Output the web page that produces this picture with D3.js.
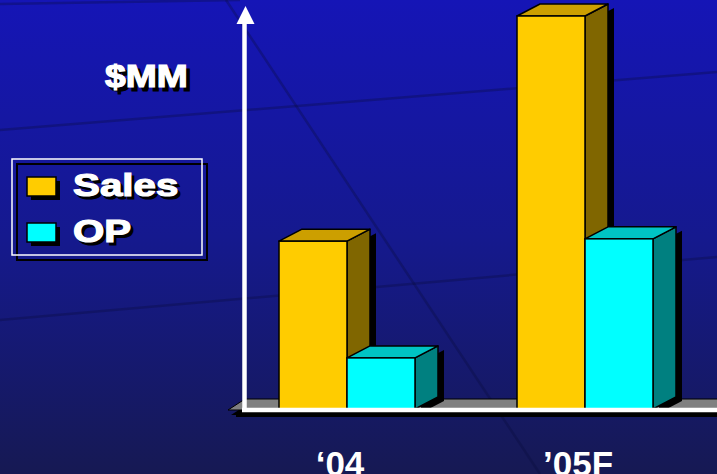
<!DOCTYPE html>
<html>
<head>
<meta charset="utf-8">
<script src="https://cdn.jsdelivr.net/npm/d3@7"></script>
<style>
  html, body { margin: 0; padding: 0; background: #151760; }
  svg { display: block; }
</style>
</head>
<body>
<svg id="chart" width="717" height="474"></svg>
<script>
// ---- data ----
const categories = ["\u201804", "\u201905F"];
const seriesNames = ["Sales", "OP"];
const salesValues = [42.7, 100];
const opValues = [13.0, 43.3];
const yDomain = [0, 100];
const unitLabel = "$MM";

// ---- layout ----
const W = 717, H = 474;
const svg = d3.select("#chart");
const font = "'Liberation Sans', Arial, Helvetica, sans-serif";

// background
const defs = svg.append("defs");
const bg = defs.append("linearGradient").attr("id", "bg").attr("x1", 0).attr("y1", 0).attr("x2", 0).attr("y2", 1);
bg.append("stop").attr("offset", 0).attr("stop-color", "#1515b6");
bg.append("stop").attr("offset", 0.5).attr("stop-color", "#15198e");
bg.append("stop").attr("offset", 1).attr("stop-color", "#161953");
svg.append("rect").attr("width", W).attr("height", H).attr("fill", "url(#bg)");

// faint streaks in the background texture
const streaks = [[[0, 4], [240, 0]], [[0, 130], [717, 72]], [[0, 320], [717, 257]], [[226, 0], [540, 474]]];
svg.append("g").selectAll("path").data(streaks).join("path")
  .attr("d", d => d3.line()(d))
  .attr("stroke", "rgba(10,12,60,0.32)").attr("stroke-width", 2.5).attr("fill", "none");

// scales
const y = d3.scaleLinear().domain(yDomain).range([409, 16]);
const x = d3.scaleBand().domain(categories).range([160, 772]).paddingInner(0.4286).paddingOuter(0.5);
const xs = d3.scaleBand().domain(seriesNames).range([0, x.bandwidth()]);
const colors = {
  Sales: { front: "#ffcc00", top: "#cc9f00", side: "#806600" },
  OP: { front: "#00ffff", top: "#00c4c4", side: "#008080" }
};
const DX = 23, DY = -12;
const baseY = y(0);

// floor
const floor = [[228, 410], [245, 399], [740, 399], [723, 410]];
svg.append("path").attr("d", d3.line()(floor.map(p => [p[0] + 3, p[1] + 5])) + "Z").attr("fill", "#000");
svg.append("path").attr("d", d3.line()(floor) + "Z").attr("fill", "#808080").attr("stroke", "#000").attr("stroke-width", 1);

// bars
const rows = [];
categories.forEach((c, i) => {
  rows.push({ cat: c, s: "Sales", v: salesValues[i] });
  rows.push({ cat: c, s: "OP", v: opValues[i] });
});
const gBars = svg.append("g");
rows.forEach(d => {
  const x0 = x(d.cat) + xs(d.s), x1 = x0 + xs.bandwidth();
  const yt = y(d.v);
  const col = colors[d.s];
  const side = [[x1, baseY], [x1, yt], [x1 + DX, yt + DY], [x1 + DX, baseY + DY]];
  const top = [[x0, yt], [x0 + DX, yt + DY], [x1 + DX, yt + DY], [x1, yt]];
  const g = gBars.append("g");
  g.append("path").attr("d", d3.line()(side.map(p => [p[0] + 6, p[1] + 4])) + "Z").attr("fill", "#000");
  g.append("path").attr("d", d3.line()(side) + "Z").attr("fill", col.side).attr("stroke", "#000").attr("stroke-width", 1.5).attr("stroke-linejoin", "round");
  g.append("path").attr("d", d3.line()(top) + "Z").attr("fill", col.top).attr("stroke", "#000").attr("stroke-width", 1.5).attr("stroke-linejoin", "round");
  g.append("rect").attr("x", x0).attr("y", yt).attr("width", x1 - x0).attr("height", baseY - yt)
    .attr("fill", col.front).attr("stroke", "#000").attr("stroke-width", 1.5);
});

// axes (white, with arrow)
svg.append("line").attr("x1", 236).attr("x2", W).attr("y1", 415).attr("y2", 415).attr("stroke", "#000").attr("stroke-width", 4);
svg.append("line").attr("x1", 242).attr("x2", W).attr("y1", 410).attr("y2", 410).attr("stroke", "#fff").attr("stroke-width", 4.5);
svg.append("line").attr("x1", 244.5).attr("x2", 244.5).attr("y1", 412).attr("y2", 20).attr("stroke", "#fff").attr("stroke-width", 4.5);
svg.append("path").attr("d", "M245.5,6 L236.5,24 L254.5,24 Z").attr("fill", "#fff");

// category axis labels
const xAxis = d3.axisBottom(x).tickSize(0).tickPadding(41);
const gx = svg.append("g").attr("transform", "translate(0,410)").call(xAxis);
gx.select(".domain").remove();
gx.selectAll("text").attr("fill", "#fff").attr("font-family", font).attr("font-weight", "bold")
  .attr("font-size", 35).attr("dx", -7);

// shadowed text helper
function shadowText(g, txt, xx, yy, size, sx, off) {
  const t = g.append("g").attr("transform", `translate(${xx},${yy}) scale(${sx},1)`);
  t.append("text").attr("x", off / sx).attr("y", off).text(txt).attr("fill", "#000")
    .attr("stroke", "#000").attr("stroke-width", 1.2)
    .attr("font-family", font).attr("font-weight", "bold").attr("font-size", size);
  t.append("text").attr("x", 0).attr("y", 0).text(txt).attr("fill", "#fff")
    .attr("stroke", "#fff").attr("stroke-width", 1.2)
    .attr("font-family", font).attr("font-weight", "bold").attr("font-size", size);
}

// unit label
shadowText(svg, unitLabel, 105, 87, 31, 1.2, 4);

// legend
const lg = svg.append("g");
lg.append("rect").attr("x", 17).attr("y", 164).attr("width", 190).attr("height", 96).attr("fill", "none").attr("stroke", "#000").attr("stroke-width", 2);
lg.append("rect").attr("x", 12).attr("y", 159).attr("width", 190).attr("height", 96).attr("fill", "none").attr("stroke", "#fff").attr("stroke-width", 1.5);
seriesNames.forEach((s, i) => {
  const yy = 177 + i * 46;
  lg.append("rect").attr("x", 31).attr("y", yy + 4).attr("width", 29).attr("height", 19).attr("fill", "#000");
  lg.append("rect").attr("x", 27).attr("y", yy).attr("width", 29).attr("height", 19).attr("fill", colors[s].front).attr("stroke", "#000").attr("stroke-width", 1.5);
  shadowText(lg, s, 73, yy + 19, 32, 1.26, 3);
});
</script>
</body>
</html>
